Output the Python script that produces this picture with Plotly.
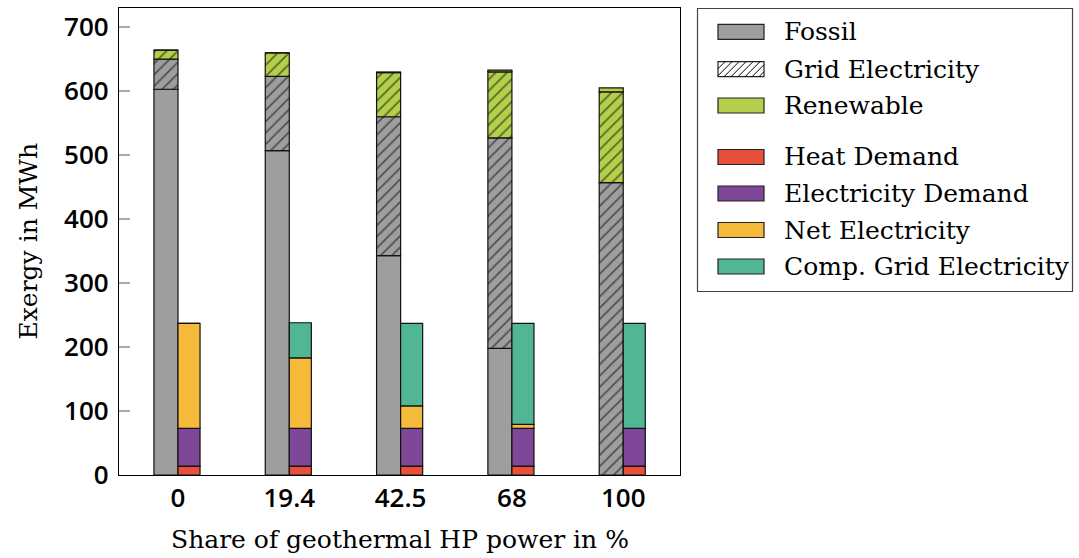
import numpy as np
import plotly.graph_objects as go

# Share of geothermal heat-pump power (%)
categories = ["0", "19.4", "42.5", "68", "100"]

# Exergy supply (MWh)
fossil = [603, 507, 343, 198, 0]
grid_fossil = [47, 116, 217, 329, 457]
grid_renewable = [14, 37, 69, 103, 142]
renewable = [0, 0, 1, 3, 6]

# Exergy demand (MWh)
heat_demand = [14, 14, 14, 14, 14]
electricity_demand = [59, 59, 59, 59, 59]
net_electricity = [164, 110, 35, 6, 0]
comp_grid_electricity = [0, 55, 129, 158, 164]

y_ticks = [0, 100, 200, 300, 400, 500, 600, 700]

GREY = "#9e9e9e"
GREEN = "#b4cf4b"
RED = "#e9503c"
PURPLE = "#7f4797"
ORANGE = "#f6ba3b"
TEAL = "#51b694"

SERIF = "DejaVu Serif"
SANS = "Open Sans SemiBold, Open Sans"

# plot-area geometry in pixels (used for the hand-drawn legend)
W, H = 1079, 558
L, R, T, B = 119, 680, 8, 475
PW, PH = R - L, B - T


def px(x):
    return (x - L) / PW


def py(y):
    return (B - y) / PH


x = np.arange(len(categories))
fig = go.Figure()


def add_stack(layers, offset, width):
    base = np.zeros(len(categories))
    for name, values, color, hatched in layers:
        vals = np.asarray(values, dtype=float)
        marker = dict(color=color, line=dict(color="#111111", width=1.2))
        if hatched:
            marker["pattern"] = dict(shape="/", size=8, solidity=0.22,
                                     fgcolor="black", bgcolor=color,
                                     fillmode="overlay")
        fig.add_trace(go.Bar(x=x, y=vals, base=base.copy(), name=name,
                             offset=offset, width=width, marker=marker,
                             hoverinfo="name+y"))
        base += vals


add_stack([
    ("Fossil", fossil, GREY, False),
    ("Grid Electricity (fossil)", grid_fossil, GREY, True),
    ("Grid Electricity (renewable)", grid_renewable, GREEN, True),
    ("Renewable", renewable, GREEN, False),
], offset=-0.216, width=0.216)

add_stack([
    ("Heat Demand", heat_demand, RED, False),
    ("Electricity Demand", electricity_demand, PURPLE, False),
    ("Net Electricity", net_electricity, ORANGE, False),
    ("Comp. Grid Electricity", comp_grid_electricity, TEAL, False),
], offset=0.0, width=0.198)

# ---- legend drawn by hand: wide rectangular swatches, grouped ----
legend_items = [
    ("Fossil", GREY, False, 31.8),
    ("Grid Electricity", "white", True, 69.2),
    ("Renewable", GREEN, False, 105.5),
    ("Heat Demand", RED, False, 157.0),
    ("Electricity Demand", PURPLE, False, 193.5),
    ("Net Electricity", ORANGE, False, 230.0),
    ("Comp. Grid Electricity", TEAL, False, 266.5),
]
shapes = []
annotations = []
shapes.append(dict(type="rect", xref="paper", yref="paper",
                   x0=px(697.5), x1=px(1072.5), y0=py(8.5), y1=py(291.5),
                   line=dict(color="#444444", width=1.2), fillcolor="white",
                   layer="below"))
sw_x0, sw_x1, sw_h = 718, 764, 15
for label, color, hatched, yc in legend_items:
    y0, y1 = yc + sw_h / 2, yc - sw_h / 2
    shapes.append(dict(type="rect", xref="paper", yref="paper",
                       x0=px(sw_x0), x1=px(sw_x1), y0=py(y0), y1=py(y1),
                       fillcolor=color, line=dict(color="#222222", width=1.2)))
    if hatched:
        step = 7.0
        start = sw_x0 - sw_h
        k = 0
        while start + k * step < sw_x1:
            xa = start + k * step
            # clip the 45-degree segment (xa, y0) -> (xa + h, y1) to the swatch
            t0 = max(0.0, (sw_x0 - xa) / sw_h)
            t1 = min(1.0, (sw_x1 - xa) / sw_h)
            if t1 > t0:
                ax, ay = xa + t0 * sw_h, y0 - t0 * sw_h
                bx, by = xa + t1 * sw_h, y0 - t1 * sw_h
                shapes.append(dict(type="line", xref="paper", yref="paper",
                                   x0=px(ax), y0=py(ay), x1=px(bx), y1=py(by),
                                   line=dict(color="black", width=1)))
            k += 1
    annotations.append(dict(text=label, xref="paper", yref="paper",
                            x=px(782), y=py(yc), xanchor="left",
                            yanchor="middle", showarrow=False,
                            font=dict(family=SERIF, size=25, color="black")))

# axis titles
annotations.append(dict(text="Share of geothermal HP power in %",
                        xref="paper", yref="paper", x=0.5, y=py(539),
                        xanchor="center", yanchor="middle", showarrow=False,
                        font=dict(family=SERIF, size=25, color="black")))
annotations.append(dict(text="Exergy in MWh", textangle=-90,
                        xref="paper", yref="paper", x=px(28), y=0.5,
                        xanchor="center", yanchor="middle", showarrow=False,
                        font=dict(family=SERIF, size=25, color="black")))

fig.update_layout(
    width=W, height=H,
    margin=dict(l=L, r=W - R, t=T, b=H - B, pad=0),
    barmode="overlay",
    showlegend=False,
    plot_bgcolor="white",
    paper_bgcolor="white",
    shapes=shapes,
    annotations=annotations,
    xaxis=dict(range=[-0.53, 4.51], tickmode="array", tickvals=list(x),
               ticktext=categories, ticks="", showgrid=False, zeroline=False,
               showline=True, linecolor="black", linewidth=1.3, mirror=True,
               ticklabelstandoff=0,
               tickfont=dict(family=SANS, size=26, color="black", weight=600)),
    yaxis=dict(range=[0, 730], tickmode="array", tickvals=y_ticks,
               ticks="inside", ticklen=11, tickwidth=1.5, tickcolor="#aaaaaa",
               showgrid=False, zeroline=False, showline=True,
               linecolor="black", linewidth=1.3, mirror=True,
               ticklabelstandoff=4,
               tickfont=dict(family=SANS, size=26, color="black", weight=600)),
)

fig.write_html("out.html")
